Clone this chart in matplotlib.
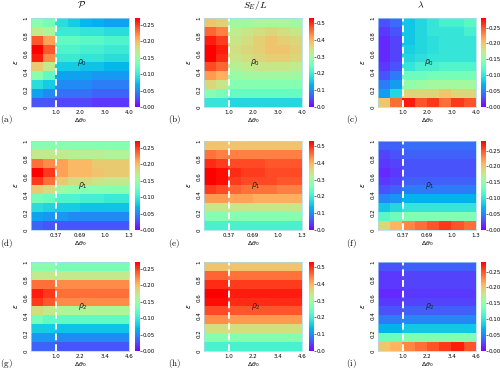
import matplotlib
matplotlib.use('Agg')
import matplotlib.pyplot as plt
import numpy as np

# rows listed from top (eps 0.9-1.0) to bottom (eps 0-0.1), 8 column blocks of width 0.5
P_p0 = [[0.14, 0.13, 0.09, 0.08, 0.07, 0.065, 0.06, 0.06],
        [0.17, 0.16, 0.10, 0.10, 0.095, 0.095, 0.09, 0.09],
        [0.24, 0.21, 0.12, 0.12, 0.115, 0.115, 0.11, 0.11],
        [0.27, 0.24, 0.11, 0.11, 0.105, 0.105, 0.10, 0.10],
        [0.26, 0.22, 0.10, 0.10, 0.095, 0.095, 0.09, 0.09],
        [0.19, 0.17, 0.08, 0.08, 0.075, 0.075, 0.07, 0.07],
        [0.14, 0.12, 0.06, 0.06, 0.06, 0.055, 0.055, 0.055],
        [0.09, 0.08, 0.05, 0.05, 0.05, 0.045, 0.045, 0.045],
        [0.06, 0.05, 0.04, 0.04, 0.04, 0.035, 0.035, 0.035],
        [0.03, 0.03, 0.025, 0.025, 0.025, 0.02, 0.02, 0.02]]
S_p0 = [[0.38, 0.37, 0.30, 0.30, 0.31, 0.31, 0.31, 0.30],
        [0.46, 0.44, 0.33, 0.34, 0.35, 0.36, 0.35, 0.34],
        [0.51, 0.49, 0.34, 0.35, 0.37, 0.38, 0.37, 0.36],
        [0.53, 0.51, 0.35, 0.36, 0.37, 0.38, 0.38, 0.37],
        [0.53, 0.50, 0.34, 0.35, 0.36, 0.37, 0.37, 0.36],
        [0.48, 0.46, 0.32, 0.33, 0.34, 0.34, 0.34, 0.33],
        [0.42, 0.40, 0.29, 0.30, 0.30, 0.30, 0.30, 0.30],
        [0.36, 0.34, 0.27, 0.27, 0.27, 0.27, 0.27, 0.27],
        [0.27, 0.26, 0.24, 0.24, 0.24, 0.24, 0.24, 0.24],
        [0.19, 0.19, 0.17, 0.17, 0.17, 0.17, 0.17, 0.17]]
L_p0 = [[0.03, 0.04, 0.08, 0.09, 0.10, 0.11, 0.11, 0.12],
        [0.02, 0.03, 0.08, 0.09, 0.10, 0.10, 0.10, 0.11],
        [0.015, 0.025, 0.08, 0.09, 0.095, 0.10, 0.10, 0.10],
        [0.015, 0.025, 0.085, 0.09, 0.095, 0.10, 0.10, 0.10],
        [0.015, 0.025, 0.09, 0.095, 0.10, 0.10, 0.10, 0.10],
        [0.02, 0.03, 0.10, 0.11, 0.11, 0.115, 0.115, 0.115],
        [0.03, 0.045, 0.13, 0.13, 0.135, 0.135, 0.135, 0.135],
        [0.045, 0.06, 0.15, 0.155, 0.16, 0.16, 0.16, 0.16],
        [0.06, 0.09, 0.19, 0.19, 0.19, 0.20, 0.19, 0.19],
        [0.20, 0.24, 0.27, 0.25, 0.26, 0.24, 0.26, 0.25]]

P_p1 = [[0.14, 0.14, 0.14, 0.14, 0.14, 0.14, 0.14, 0.14],
        [0.17, 0.17, 0.17, 0.165, 0.165, 0.165, 0.16, 0.16],
        [0.23, 0.22, 0.21, 0.20, 0.20, 0.19, 0.19, 0.19],
        [0.27, 0.25, 0.21, 0.20, 0.20, 0.195, 0.19, 0.19],
        [0.25, 0.23, 0.19, 0.18, 0.18, 0.175, 0.17, 0.17],
        [0.19, 0.18, 0.15, 0.145, 0.14, 0.14, 0.14, 0.14],
        [0.13, 0.125, 0.11, 0.11, 0.105, 0.105, 0.10, 0.10],
        [0.09, 0.085, 0.08, 0.08, 0.075, 0.075, 0.075, 0.075],
        [0.06, 0.055, 0.055, 0.05, 0.05, 0.05, 0.05, 0.05],
        [0.035, 0.03, 0.03, 0.03, 0.03, 0.03, 0.03, 0.03]]
S_p1 = [[0.38, 0.38, 0.38, 0.38, 0.38, 0.38, 0.38, 0.38],
        [0.45, 0.44, 0.44, 0.44, 0.44, 0.44, 0.44, 0.44],
        [0.50, 0.49, 0.48, 0.48, 0.48, 0.47, 0.47, 0.47],
        [0.53, 0.52, 0.50, 0.49, 0.49, 0.48, 0.48, 0.48],
        [0.53, 0.52, 0.49, 0.48, 0.48, 0.48, 0.47, 0.47],
        [0.49, 0.48, 0.46, 0.45, 0.45, 0.45, 0.44, 0.44],
        [0.42, 0.42, 0.41, 0.41, 0.40, 0.40, 0.40, 0.40],
        [0.34, 0.34, 0.34, 0.34, 0.34, 0.34, 0.34, 0.34],
        [0.27, 0.27, 0.27, 0.27, 0.27, 0.27, 0.27, 0.27],
        [0.21, 0.21, 0.21, 0.21, 0.21, 0.21, 0.21, 0.21]]
L_p1 = [[0.035, 0.035, 0.04, 0.04, 0.04, 0.04, 0.04, 0.04],
        [0.025, 0.03, 0.035, 0.035, 0.035, 0.035, 0.035, 0.035],
        [0.02, 0.025, 0.03, 0.03, 0.03, 0.03, 0.03, 0.03],
        [0.015, 0.02, 0.03, 0.03, 0.03, 0.03, 0.03, 0.03],
        [0.02, 0.025, 0.035, 0.035, 0.035, 0.035, 0.035, 0.035],
        [0.03, 0.035, 0.045, 0.045, 0.045, 0.045, 0.045, 0.045],
        [0.05, 0.055, 0.07, 0.07, 0.07, 0.07, 0.07, 0.07],
        [0.08, 0.09, 0.10, 0.10, 0.10, 0.10, 0.10, 0.10],
        [0.12, 0.13, 0.14, 0.14, 0.14, 0.14, 0.14, 0.14],
        [0.19, 0.21, 0.23, 0.24, 0.25, 0.26, 0.25, 0.24]]

P_p2 = [[0.14, 0.14, 0.13, 0.13, 0.13, 0.13, 0.13, 0.13],
        [0.17, 0.17, 0.17, 0.17, 0.17, 0.17, 0.17, 0.17],
        [0.23, 0.23, 0.22, 0.22, 0.22, 0.22, 0.22, 0.22],
        [0.26, 0.25, 0.23, 0.23, 0.23, 0.23, 0.23, 0.23],
        [0.25, 0.24, 0.22, 0.22, 0.22, 0.22, 0.22, 0.22],
        [0.18, 0.17, 0.16, 0.16, 0.16, 0.16, 0.16, 0.16],
        [0.13, 0.12, 0.12, 0.12, 0.12, 0.12, 0.12, 0.12],
        [0.08, 0.08, 0.075, 0.075, 0.075, 0.075, 0.075, 0.075],
        [0.055, 0.055, 0.05, 0.05, 0.05, 0.05, 0.05, 0.05],
        [0.035, 0.035, 0.03, 0.03, 0.03, 0.03, 0.03, 0.03]]
S_p2 = [[0.38, 0.38, 0.38, 0.38, 0.38, 0.38, 0.38, 0.38],
        [0.46, 0.46, 0.45, 0.45, 0.45, 0.45, 0.45, 0.45],
        [0.50, 0.50, 0.49, 0.49, 0.49, 0.49, 0.49, 0.49],
        [0.53, 0.53, 0.51, 0.51, 0.51, 0.51, 0.51, 0.51],
        [0.52, 0.52, 0.50, 0.50, 0.50, 0.50, 0.50, 0.50],
        [0.48, 0.48, 0.47, 0.47, 0.47, 0.47, 0.47, 0.47],
        [0.43, 0.43, 0.42, 0.42, 0.42, 0.42, 0.42, 0.42],
        [0.35, 0.35, 0.35, 0.35, 0.35, 0.35, 0.35, 0.35],
        [0.27, 0.27, 0.27, 0.27, 0.27, 0.27, 0.27, 0.27],
        [0.21, 0.21, 0.21, 0.21, 0.21, 0.21, 0.21, 0.21]]
L_p2 = [[0.03, 0.03, 0.035, 0.035, 0.035, 0.035, 0.035, 0.035],
        [0.02, 0.02, 0.025, 0.025, 0.025, 0.025, 0.025, 0.025],
        [0.02, 0.02, 0.025, 0.025, 0.025, 0.025, 0.025, 0.025],
        [0.015, 0.015, 0.02, 0.02, 0.02, 0.02, 0.02, 0.02],
        [0.02, 0.02, 0.025, 0.025, 0.025, 0.025, 0.025, 0.025],
        [0.03, 0.03, 0.035, 0.035, 0.035, 0.035, 0.035, 0.035],
        [0.045, 0.045, 0.05, 0.05, 0.05, 0.05, 0.05, 0.05],
        [0.07, 0.07, 0.08, 0.08, 0.08, 0.08, 0.08, 0.08],
        [0.13, 0.13, 0.14, 0.14, 0.14, 0.14, 0.14, 0.14],
        [0.20, 0.21, 0.23, 0.24, 0.25, 0.26, 0.27, 0.25]]

panels = [[P_p0, S_p0, L_p0],
          [P_p1, S_p1, L_p1],
          [P_p2, S_p2, L_p2]]

col_titles = [r'$\mathcal{P}$', r'$S_E/L$', r'$\lambda$']
col_vmax = [0.27, 0.53, 0.28]
col_cticks = [[0, 0.05, 0.10, 0.15, 0.20, 0.25],
              [0, 0.1, 0.2, 0.3, 0.4, 0.5],
              [0, 0.05, 0.10, 0.15, 0.20, 0.25]]
col_cfmt = ['%.2f', '%.1f', '%.2f']
row_xticklabels = [['1.0', '2.0', '3.0', '4.0'],
                   ['0.37', '0.69', '1.0', '1.3'],
                   ['1.0', '2.2', '3.4', '4.6']]
row_names = [r'$\rho_0$', r'$\rho_1$', r'$\rho_2$']
panel_labels = ['(a)', '(b)', '(c)', '(d)', '(e)', '(f)', '(g)', '(h)', '(i)']
y_ticks = [0, 0.2, 0.4, 0.6, 0.8, 1]
y_ticklabels = ['0', '0.2', '0.4', '0.6', '0.8', '1']

W, H = 500, 369
fig = plt.figure(figsize=(W / 100, H / 100), dpi=100)

ax_left = [31, 204, 378]
cb_left = [135, 309, 481]
ax_top = [18, 141, 262]
ax_w, ax_h, cb_w = 98, 89, 4.5
lab_x = [0, 168, 346]

for r in range(3):
    for c in range(3):
        bottom = 1 - (ax_top[r] + ax_h) / H
        ax = fig.add_axes([ax_left[c] / W, bottom, ax_w / W, ax_h / H])
        im = ax.imshow(np.array(panels[r][c]), cmap='rainbow', vmin=0, vmax=col_vmax[c],
                       extent=[0, 4, 0, 1], aspect='auto', interpolation='nearest')
        ax.axvline(1, color='white', lw=1.4, ls=(0, (3.5, 2)))
        ax.set_xticks([1, 2, 3, 4])
        ax.set_xticklabels(row_xticklabels[r])
        ax.set_yticks(y_ticks)
        ax.set_yticklabels(y_ticklabels, rotation=90, va='center')
        ax.tick_params(length=0, labelsize=4, pad=2)
        ax.set_xlabel(r'$\Delta\theta_0$', fontsize=4.5, labelpad=1)
        ax.set_ylabel(r'$\epsilon$', fontsize=5, labelpad=2)
        for s in ax.spines.values():
            s.set_color('#a8d8f0')
            s.set_linewidth(0.5)
        ax.text(2.1, 0.5, row_names[r], fontsize=5.5, ha='center', va='center', color='#222222')

        cax = fig.add_axes([cb_left[c] / W, bottom, cb_w / W, ax_h / H])
        cb = fig.colorbar(im, cax=cax, ticks=col_cticks[c], format=col_cfmt[c])
        cb.outline.set_visible(False)
        cb.ax.tick_params(length=1.2, width=0.4, labelsize=4, pad=1)

        fig.text(lab_x[c] / W, 1 - (ax_top[r] + ax_h + 13) / H, r'$\mathrm{' + panel_labels[r * 3 + c] + '}$',
                 fontsize=6.5, va='center', ha='left', math_fontfamily='cm')

title_x = [82, 255, 421]
for c in range(3):
    fig.text(title_x[c] / W, 1 - 5 / H, col_titles[c], fontsize=7, ha='center', va='center',
             math_fontfamily='cm')

plt.savefig('out.png', dpi=100)
